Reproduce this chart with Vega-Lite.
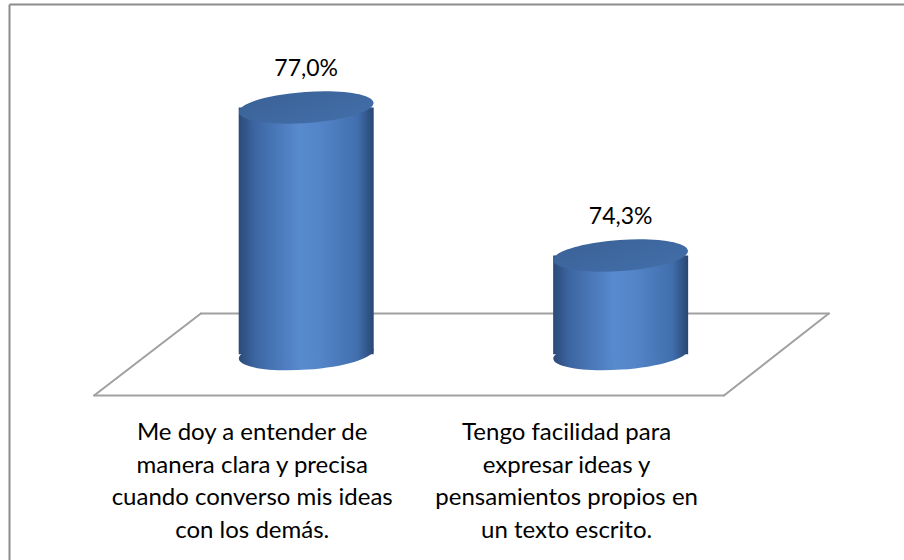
{
  "$schema": "https://vega.github.io/schema/vega-lite/v6.json",
  "width": 895,
  "height": 556,
  "autosize": {"type": "none"},
  "padding": {"left": 9, "top": 4, "right": 0, "bottom": 0},
  "background": "white",
  "config": {"view": {"stroke": null}},
  "data": {"values": [
    {"item": "Me doy a entender de\nmanera clara y precisa\ncuando converso mis ideas\ncon los demás.", "pos": 1, "share": 0.770, "base": 0.725, "label": "77,0%"},
    {"item": "Tengo facilidad para\nexpresar ideas y\npensamientos propios en\nun texto escrito.", "pos": 2, "share": 0.743, "base": 0.725, "label": "74,3%"}
  ]},
  "layer": [
    {
      "data": {"values": [
        {"fx": 0.32547, "fy": 0.71745, "fx2": 2.32862, "fy2": 0.71745},
        {"fx": 2.32862, "fy": 0.71745, "fx2": 2.66195, "fy2": 0.73242},
        {"fx": 2.66195, "fy": 0.73242, "fx2": 0.66509, "fy2": 0.73242},
        {"fx": 0.66509, "fy": 0.73242, "fx2": 0.32547, "fy2": 0.71745}
      ]},
      "mark": {"type": "rule", "stroke": "#a0a0a0", "strokeWidth": 2, "strokeCap": "round"},
      "encoding": {
        "x": {"field": "fx", "type": "quantitative",
          "scale": {"domain": [0.07075, 2.88522], "nice": false, "zero": false},
          "axis": {"orient": "top", "domain": true, "domainColor": "#8c8c8c", "domainWidth": 2, "ticks": false, "labels": false, "grid": false, "title": null}},
        "x2": {"field": "fx2"},
        "y": {"field": "fy", "type": "quantitative",
          "scale": {"domain": [0.68744, 0.78888], "nice": false, "zero": false},
          "axis": {"orient": "left", "domain": true, "domainColor": "#8c8c8c", "domainWidth": 2, "ticks": false, "labels": false, "grid": false, "title": null}},
        "y2": {"field": "fy2"}
      }
    },
    {
      "mark": {
        "type": "point", "filled": true, "opacity": 1, "strokeWidth": 0, "size": 18225, "angle": -4,
        "shape": "M -1 0 C -1 -0.127 -0.552 -0.23 0 -0.23 C 0.552 -0.23 1 -0.127 1 0 C 1 0.127 0.552 0.23 0 0.23 C -0.552 0.23 -1 0.127 -1 0 Z",
        "fill": {"gradient": "linear", "x1": 0, "x2": 1, "y1": 0, "y2": 0,
          "stops": [
            {"offset": 0, "color": "#2b4a78"},
            {"offset": 0.12, "color": "#3c66a2"},
            {"offset": 0.45, "color": "#588acf"},
            {"offset": 0.6, "color": "#5485c8"},
            {"offset": 0.88, "color": "#416fae"},
            {"offset": 1, "color": "#294672"}
          ]}
      },
      "encoding": {
        "x": {"field": "pos", "type": "quantitative"},
        "y": {"field": "base", "type": "quantitative"}
      }
    },
    {
      "mark": {
        "type": "bar", "orient": "vertical", "width": 135,
        "fill": {"gradient": "linear", "x1": 0, "x2": 1, "y1": 0, "y2": 0,
          "stops": [
            {"offset": 0, "color": "#2b4a78"},
            {"offset": 0.12, "color": "#3c66a2"},
            {"offset": 0.45, "color": "#588acf"},
            {"offset": 0.6, "color": "#5485c8"},
            {"offset": 0.88, "color": "#416fae"},
            {"offset": 1, "color": "#294672"}
          ]}
      },
      "encoding": {
        "x": {"field": "pos", "type": "quantitative"},
        "y": {"field": "share", "type": "quantitative"},
        "y2": {"field": "base"}
      }
    },
    {
      "mark": {
        "type": "point", "filled": true, "opacity": 1, "strokeWidth": 0, "size": 18225, "angle": -4,
        "shape": "M -1 0 C -1 -0.127 -0.552 -0.23 0 -0.23 C 0.552 -0.23 1 -0.127 1 0 C 1 0.127 0.552 0.23 0 0.23 C -0.552 0.23 -1 0.127 -1 0 Z",
        "fill": {"gradient": "linear", "x1": 0, "x2": 1, "y1": 0, "y2": 1,
          "stops": [
            {"offset": 0, "color": "#3a6298"},
            {"offset": 1, "color": "#436ea8"}
          ]}
      },
      "encoding": {
        "x": {"field": "pos", "type": "quantitative"},
        "y": {"field": "share", "type": "quantitative"}
      }
    },
    {
      "mark": {"type": "text", "font": "Lato", "fontSize": 23, "color": "#000000", "baseline": "alphabetic", "align": "center", "dy": -31},
      "encoding": {
        "x": {"field": "pos", "type": "quantitative"},
        "y": {"field": "share", "type": "quantitative"},
        "text": {"field": "label", "type": "nominal"}
      }
    },
    {
      "mark": {"type": "text", "font": "Lato", "fontSize": 24, "color": "#000000", "baseline": "alphabetic", "align": "center", "lineBreak": "\n", "lineHeight": 32.7, "dx": -54, "dy": 85.8},
      "encoding": {
        "x": {"field": "pos", "type": "quantitative"},
        "y": {"field": "base", "type": "quantitative"},
        "text": {"field": "item", "type": "nominal"}
      }
    }
  ]
}
